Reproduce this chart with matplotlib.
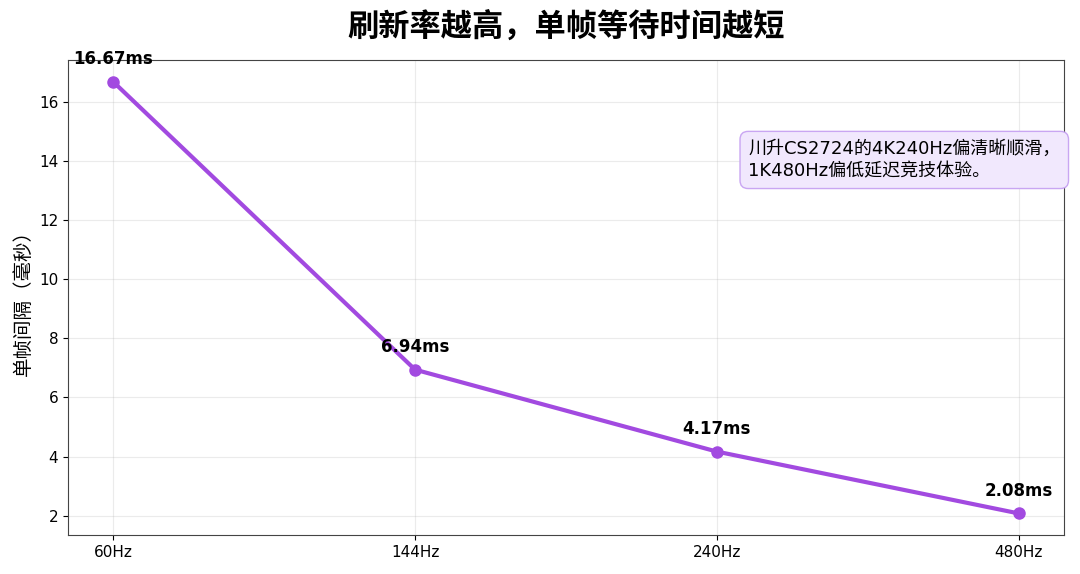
import matplotlib
matplotlib.use("Agg")
import matplotlib.pyplot as plt

plt.rcParams['font.family'] = ['DejaVu Sans', 'Noto Sans CJK SC']
plt.rcParams['axes.unicode_minus'] = False

# data
rates = ["60Hz", "144Hz", "240Hz", "480Hz"]
frame_ms = [16.67, 6.94, 4.17, 2.08]
labels = ["16.67ms", "6.94ms", "4.17ms", "2.08ms"]

purple = "#a24ae0"

fig = plt.figure(figsize=(10.8, 5.74), dpi=100)
ax = fig.add_axes([0.063, 0.068, 0.922, 0.827])

x = list(range(len(rates)))
ax.plot(x, frame_ms, color=purple, linewidth=3, marker="o", markersize=8)

for xi, yi, lab in zip(x, frame_ms, labels):
    ax.annotate(lab, (xi, yi), xytext=(0, 10), textcoords="offset points",
                ha="center", va="bottom", fontsize=12, fontweight="bold")

ax.set_xticks(x)
ax.set_xticklabels(rates)
ax.set_yticks([2, 4, 6, 8, 10, 12, 14, 16])
ax.set_ylabel("单帧间隔（毫秒）", fontsize=14, family=['Noto Sans CJK SC'])
ax.grid(True, alpha=0.25)
ax.tick_params(labelsize=11)
for s in ax.spines.values():
    s.set_color("#444444")

ax.set_title("刷新率越高，单帧等待时间越短", fontsize=22.5, fontweight="bold",
             family=['Noto Sans CJK SC'], pad=18)

ax.text(0.683, 0.79, "川升CS2724的4K240Hz偏清晰顺滑，\n1K480Hz偏低延迟竞技体验。",
        transform=ax.transAxes, fontsize=13, va="center", ha="left", linespacing=1.35,
        bbox=dict(boxstyle="round,pad=0.45", facecolor="#f1e8fd", edgecolor="#c9a6f2"))

plt.savefig("out.png", dpi=100)
